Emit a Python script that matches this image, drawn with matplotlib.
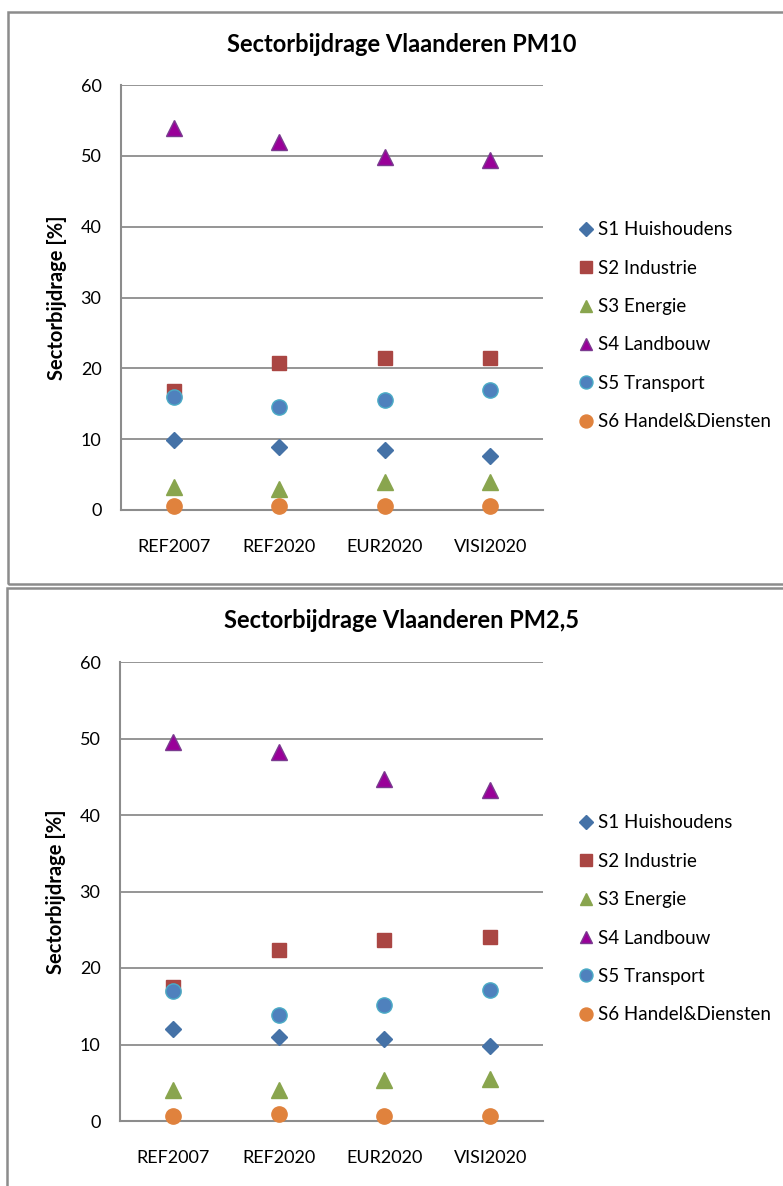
import matplotlib.pyplot as plt
from matplotlib.patches import Rectangle
from matplotlib.lines import Line2D

scenarios = ['REF2007', 'REF2020', 'EUR2020', 'VISI2020']
sectors = ['S1 Huishoudens', 'S2 Industrie', 'S3 Energie',
           'S4 Landbouw', 'S5 Transport', 'S6 Handel&Diensten']

# sector shares PM10 [%]
pm10_s1 = [9.9, 8.9, 8.5, 7.6]
pm10_s2 = [16.8, 20.8, 21.5, 21.5]
pm10_s3 = [3.3, 2.9, 4.0, 3.9]
pm10_s4 = [53.9, 52.0, 49.8, 49.4]
pm10_s5 = [16.0, 14.5, 15.5, 16.9]
pm10_s6 = [0.5, 0.6, 0.5, 0.6]

# sector shares PM2,5 [%]
pm25_s1 = [12.0, 11.0, 10.7, 9.8]
pm25_s2 = [17.5, 22.3, 23.6, 24.0]
pm25_s3 = [4.0, 4.0, 5.4, 5.5]
pm25_s4 = [49.5, 48.2, 44.7, 43.3]
pm25_s5 = [17.0, 13.8, 15.2, 17.1]
pm25_s6 = [0.6, 0.9, 0.7, 0.7]

# marker, face colour, edge colour, size
styles = [
    ('D', '#4572A7', '#4572A7', 8.5),
    ('s', '#AA4643', '#AA4643', 9.5),
    ('^', '#89A54E', '#89A54E', 11),
    ('^', '#990099', '#7a3b8f', 11),
    ('o', '#4F81BD', '#4BACC6', 11),
    ('o', '#E0823D', '#E0823D', 11),
]

W, H = 783, 1186
fig = plt.figure(figsize=(W / 100, H / 100), dpi=100)
plt.rcParams['font.family'] = ['Lato', 'DejaVu Sans']


def px(l, t, r, b):
    return [l / W, 1 - b / H, (r - l) / W, (b - t) / H]


# outer frames of the two charts
for (l, t, r, b) in [(8, 12, 790, 584), (7, 588, 790, 1195)]:
    fig.patches.append(Rectangle((l / W, 1 - b / H), (r - l) / W, (b - t) / H,
                                 transform=fig.transFigure, fill=False,
                                 edgecolor='#8c8c8c', linewidth=1.8))

panels = [
    ('Sectorbijdrage Vlaanderen PM10', px(121, 85, 543, 510), 45, 228,
     [pm10_s1, pm10_s2, pm10_s3, pm10_s4, pm10_s5, pm10_s6]),
    ('Sectorbijdrage Vlaanderen PM2,5', px(120, 662, 543, 1121), 621, 821,
     [pm25_s1, pm25_s2, pm25_s3, pm25_s4, pm25_s5, pm25_s6]),
]

for title, rect, title_y, leg_y, series in panels:
    ax = fig.add_axes(rect)
    x = range(len(scenarios))
    for vals, (m, fc, ec, ms) in zip(series, styles):
        ax.plot(x, vals, linestyle='none', marker=m, markersize=ms,
                markerfacecolor=fc, markeredgecolor=ec, markeredgewidth=1,
                clip_on=False, zorder=3)
    ax.set_xlim(-0.5, 3.5)
    ax.set_ylim(0, 60)
    ax.set_yticks(range(0, 61, 10))
    ax.set_xticks(list(x))
    ax.set_xticklabels(scenarios)
    ax.grid(axis='y', color='#8c8c8c', linewidth=1.3)
    ax.set_axisbelow(True)
    for s in ['top', 'right']:
        ax.spines[s].set_visible(False)
    for s in ['left', 'bottom']:
        ax.spines[s].set_color('#8c8c8c')
        ax.spines[s].set_linewidth(1.5)
    ax.tick_params(length=0, labelsize=13, colors='black')
    ax.tick_params(axis='y', pad=14)
    ax.tick_params(axis='x', pad=21)
    ax.set_ylabel('Sectorbijdrage [%]', fontsize=14.5, fontweight='bold',
                  labelpad=10)
    fig.text(402 / W, 1 - title_y / H, title, ha='center', va='center',
             fontsize=17, fontweight='bold')

    handles = [Line2D([], [], linestyle='none', marker=m, markersize=ms * 0.85,
                      markerfacecolor=fc, markeredgecolor=ec)
               for (m, fc, ec, ms) in styles]
    fig.legend(handles, sectors, loc='upper left',
               bbox_to_anchor=(571 / W, 1 - (leg_y - 16) / H),
               frameon=False, fontsize=13.5, handlelength=0.6,
               handletextpad=0.35, labelspacing=1.14, borderpad=0)

fig.savefig('out.png', dpi=100)
